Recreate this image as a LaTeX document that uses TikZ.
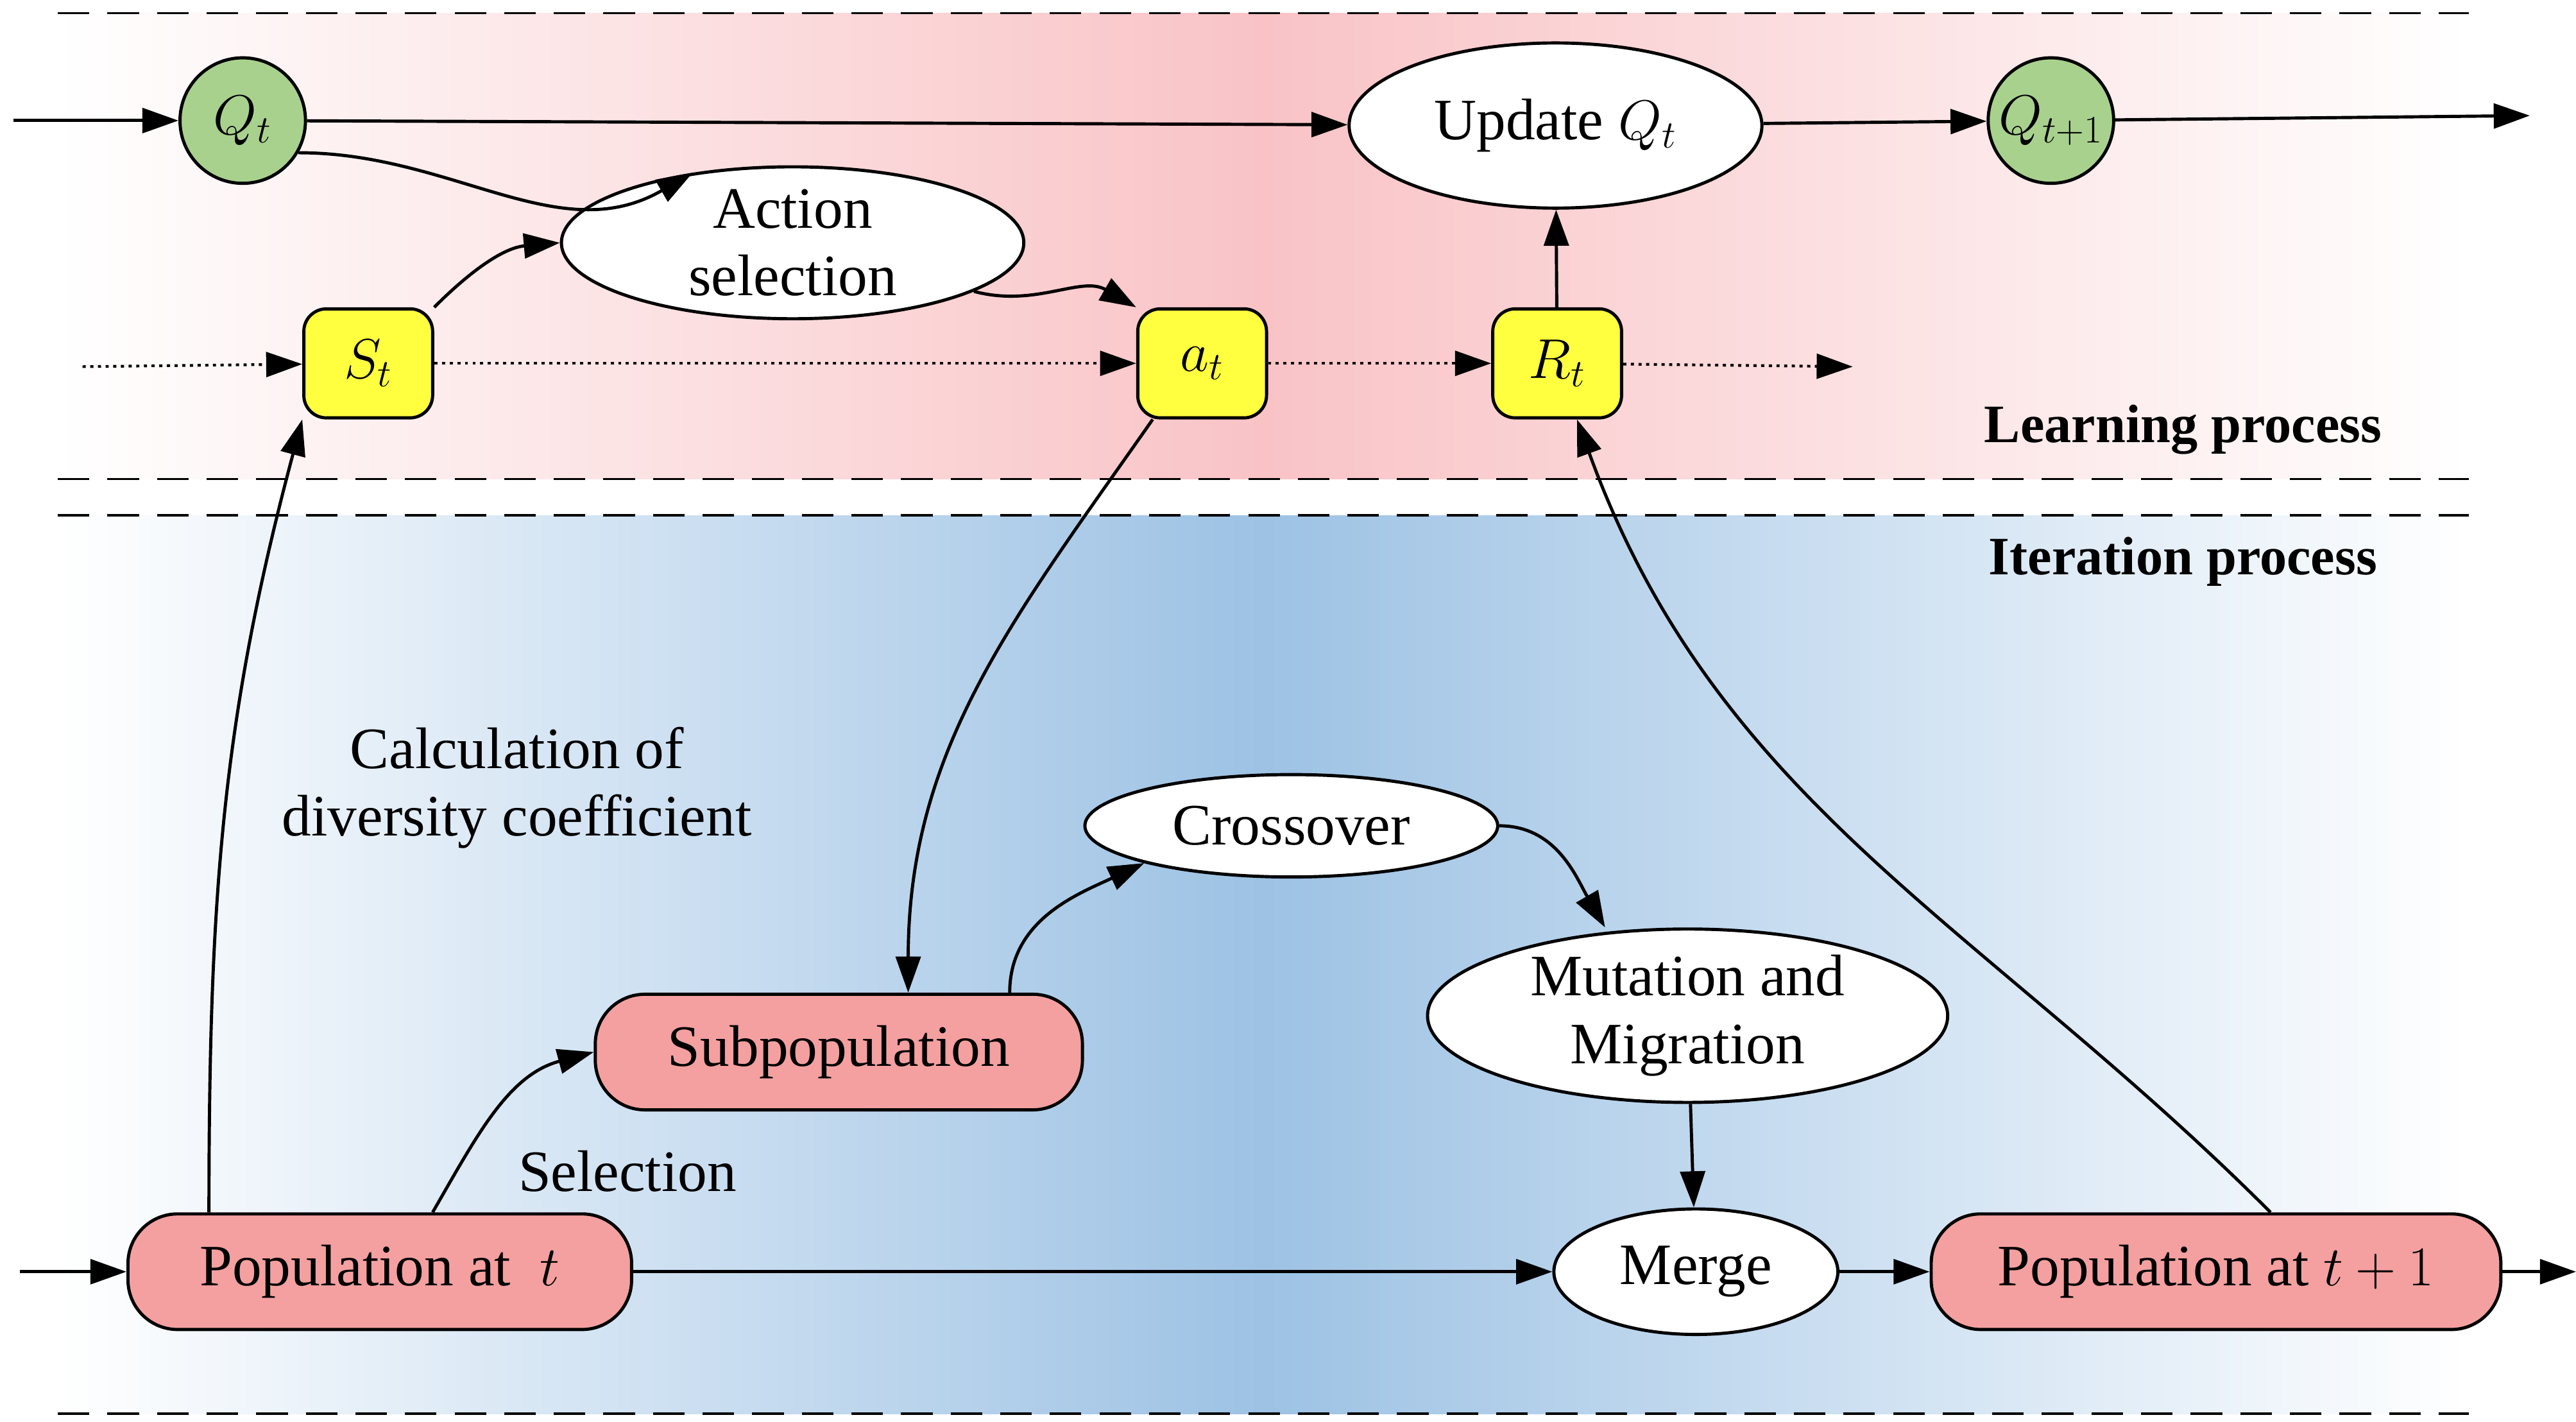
\documentclass[tikz,border=0pt]{standalone}
\usepackage{fontspec}
\setmainfont{Liberation Serif}
\usetikzlibrary{arrows.meta,shapes.geometric}
\newdimen\uu \uu=0.02574cm
\definecolor{pk}{HTML}{F9C3C6}
\definecolor{bl}{HTML}{9DC2E4}
\definecolor{gr}{HTML}{A9D18E}
\definecolor{rd}{HTML}{F4A0A0}
\definecolor{yl}{HTML}{FFFF40}
\begin{document}
\begin{tikzpicture}[x=\uu,y=-\uu,
 font=\fontsize{26}{30}\selectfont,
 every path/.style={line width=1.4pt},
 arr/.style={-{Triangle[length=16pt,width=11pt]}},
 circ/.style={circle,draw,fill=gr,minimum size=76\uu,inner sep=0pt},
 ell/.style={ellipse,draw,fill=white,inner sep=0pt,align=center},
 yb/.style={rectangle,rounded corners=10pt,draw,fill=yl,minimum width=78\uu,minimum height=66\uu,inner sep=0pt},
 pb/.style={rectangle,rounded corners=22pt,draw,fill=rd,minimum height=70\uu,inner sep=0pt},
 dsh/.style={dashed,dash pattern=on 14pt off 8pt,line width=1pt},
 dot/.style={dotted,line width=1.2pt}]
\useasboundingbox (0,0) rectangle (1560,861);
\shade[left color=white,right color=white,middle color=pk,draw=none] (35,8) rectangle (1495,290);
\shade[left color=white,right color=white,middle color=bl,draw=none] (35,312) rectangle (1495,856);
\foreach \y in {8,290,312,856} \draw[dsh] (35,\y) -- (1495,\y);

\node[circ] (q) at (147,73) {$Q_t$};
\node[ell,minimum width=250\uu,minimum height=100\uu] (up) at (942,76) {Update $Q_t$};
\node[circ] (q1) at (1242,73) {$Q_{t+1}$};
\node[ell,minimum width=280\uu,minimum height=92\uu] (as) at (480,147) {Action\\selection};
\node[yb] (s) at (223,220) {$S_t$};
\node[yb] (a) at (728,220) {$a_t$};
\node[yb] (r) at (943,220) {$R_t$};
\node[font=\fontsize{24}{28}\selectfont\bfseries] (lp) at (1322,260) {Learning process};
\node[font=\fontsize{24}{28}\selectfont\bfseries] (ip) at (1322,340) {Iteration process};
\node[align=center] (calc) at (313,477) {Calculation of\\diversity coefficient};
\node[ell,minimum width=250\uu,minimum height=62\uu] (cr) at (782,500) {Crossover};
\node[ell,minimum width=315\uu,minimum height=105\uu] (mu) at (1022,615) {Mutation and\\Migration};
\node[pb,minimum width=295\uu] (sp) at (508,637) {Subpopulation};
\node (sel) at (380,709) {Selection};
\node[pb,minimum width=305\uu] (p) at (230,770) {Population at ~$t$};
\node[ell,minimum width=172\uu,minimum height=76\uu] (m) at (1027,770) {Merge};
\node[pb,minimum width=345\uu] (p1) at (1342,770) {Population at $t+1$};

\coordinate (i1) at (8,73); \coordinate (o1) at (1532,70);
\coordinate (i2) at (50,222); \coordinate (o2) at (1122,222);
\coordinate (i3) at (12,770); \coordinate (o3) at (1560,770);

\draw[arr] (i1) -- (q);
\draw[arr] (q) -- (up);
\draw[arr] (up) -- (q1);
\draw[arr] (q1) -- (o1);
\draw[arr] (q.-30) to[out=0,in=210] (as.145);
\draw[arr] (s.north east) to[out=45,in=185] (as.west);
\draw[arr] (as.-15) to[out=-15,in=150] (a.north west);
\draw[arr,dot] (i2) -- (s);
\draw[arr,dot] (s) -- (a);
\draw[arr,dot] (a) -- (r);
\draw[arr,dot] (r) -- (o2);
\draw[arr] (r) -- (up);
\draw[arr] ([xshift=50\uu]p.north west) to[out=90,in=-105] (s.south west);
\draw[arr] ([xshift=10\uu]a.south west) to[out=-125,in=90] ([xshift=42\uu]sp.north);
\draw[arr] ([xshift=-45\uu]sp.north east) to[out=90,in=205] (cr.south west);
\draw[arr] (cr.east) to[out=0,in=120] ([xshift=-50\uu]mu.north);
\draw[arr] (mu) -- (m);
\draw[arr] (p) -- (m);
\draw[arr] ([xshift=32\uu]p.north) to[out=60,in=195] (sp.west);
\draw[arr] (m) -- (p1);
\draw[arr] (p1) -- (o3);
\draw[arr] ([xshift=33\uu]p1.north) to[out=135,in=-70] ([xshift=12\uu]r.south);
\draw[arr] (i3) -- (p);
\end{tikzpicture}
\end{document}
